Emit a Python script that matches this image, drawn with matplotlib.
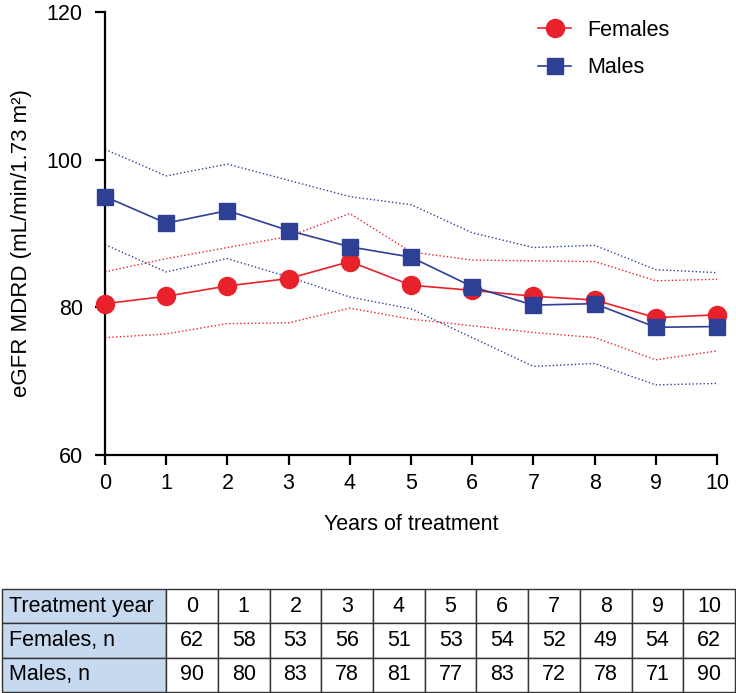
import numpy as np
import matplotlib
matplotlib.use("Agg")
import matplotlib.pyplot as plt

plt.rcParams['font.family'] = ['Liberation Sans', 'DejaVu Sans']

# ---------------------------------------------------------
# data
# ---------------------------------------------------------
years = [0, 1, 2, 3, 4, 5, 6, 7, 8, 9, 10]

females_mean = [80.5, 81.5, 82.9, 83.9, 86.2, 83.0, 82.3, 81.5, 81.0, 78.6, 79.0]
females_upper = [84.8, 86.6, 88.1, 89.6, 92.7, 87.5, 86.4, 86.3, 86.2, 83.6, 83.8]
females_lower = [75.9, 76.4, 77.8, 77.9, 79.9, 78.4, 77.5, 76.6, 75.9, 72.9, 74.1]

males_mean = [95.0, 91.4, 93.1, 90.4, 88.2, 86.8, 82.8, 80.3, 80.5, 77.3, 77.4]
males_upper = [101.4, 97.8, 99.4, 97.2, 95.0, 93.9, 90.1, 88.1, 88.4, 85.1, 84.7]
males_lower = [88.5, 84.8, 86.6, 84.1, 81.4, 79.8, 75.9, 72.0, 72.4, 69.5, 69.7]

row_labels = ['Treatment year', 'Females, n', 'Males, n']
females_n = [62, 58, 53, 56, 51, 53, 54, 52, 49, 54, 62]
males_n = [90, 80, 83, 78, 81, 77, 83, 72, 78, 71, 90]

RED = '#e8212b'
BLUE = '#2e3f96'

# ---------------------------------------------------------
# figure
# ---------------------------------------------------------
fig = plt.figure(figsize=(7.36, 6.93), dpi=100)
ax = fig.add_axes([0.1427, 0.3434, 0.8315, 0.6393])

# confidence bands (dotted)
ax.plot(years, females_upper, ':', color=RED, lw=1.0)
ax.plot(years, females_lower, ':', color=RED, lw=1.0)
ax.plot(years, males_upper, ':', color=BLUE, lw=1.0)
ax.plot(years, males_lower, ':', color=BLUE, lw=1.0)

# means
ax.plot(years, females_mean, '-', color=RED, lw=1.2, marker='o', ms=13,
        label='Females', clip_on=False, zorder=3)
ax.plot(years, males_mean, '-', color=BLUE, lw=1.2, marker='s', ms=12,
        label='Males', clip_on=False, zorder=4)

ax.set_xlim(0, 10)
ax.set_ylim(60, 120)
ax.set_xticks(years)
ax.set_yticks([60, 80, 100, 120])
ax.spines['top'].set_visible(False)
ax.spines['right'].set_visible(False)
ax.spines['left'].set_linewidth(1.6)
ax.spines['bottom'].set_linewidth(1.6)
ax.tick_params(axis='both', labelsize=15.5, width=1.6, length=7, direction='out')
ax.tick_params(axis='y', pad=9)
ax.tick_params(axis='x', pad=6)
ax.set_xlabel('Years of treatment', fontsize=15.5, labelpad=14)
ax.set_ylabel('eGFR MDRD (mL/min/1.73 m²)', fontsize=16)
ax.yaxis.set_label_coords(-0.119, 0.478)

leg = ax.legend(loc='upper left', bbox_to_anchor=(538 / 736, 1 - 20 / 693),
                bbox_transform=fig.transFigure, frameon=False,
                fontsize=15.5, handlelength=1.55, labelspacing=0.75,
                handletextpad=0.75, borderpad=0, borderaxespad=0)

# ---------------------------------------------------------
# numbers-at-risk table
# ---------------------------------------------------------
tax = fig.add_axes([0.003, 0.0015, 0.9957, 0.1486])
tax.axis('off')
cell_text = [row_labels[:1] + [str(y) for y in years],
             row_labels[1:2] + [str(v) for v in females_n],
             row_labels[2:] + [str(v) for v in males_n]]
first_w = 164 / 733
other_w = (1 - first_w) / len(years)
tbl = tax.table(cellText=cell_text, cellLoc='center', bbox=[0, 0, 1, 1],
                colWidths=[first_w] + [other_w] * len(years))
tbl.auto_set_font_size(False)
tbl.set_fontsize(15.5)
for (r, c), cell in tbl.get_celld().items():
    cell.set_linewidth(1.0)
    cell.set_edgecolor('#333333')
    if c == 0:
        cell.set_facecolor('#c6d9ef')
        cell.get_text().set_ha('left')
        cell.PAD = 0.04

fig.savefig('out.png', dpi=100)
